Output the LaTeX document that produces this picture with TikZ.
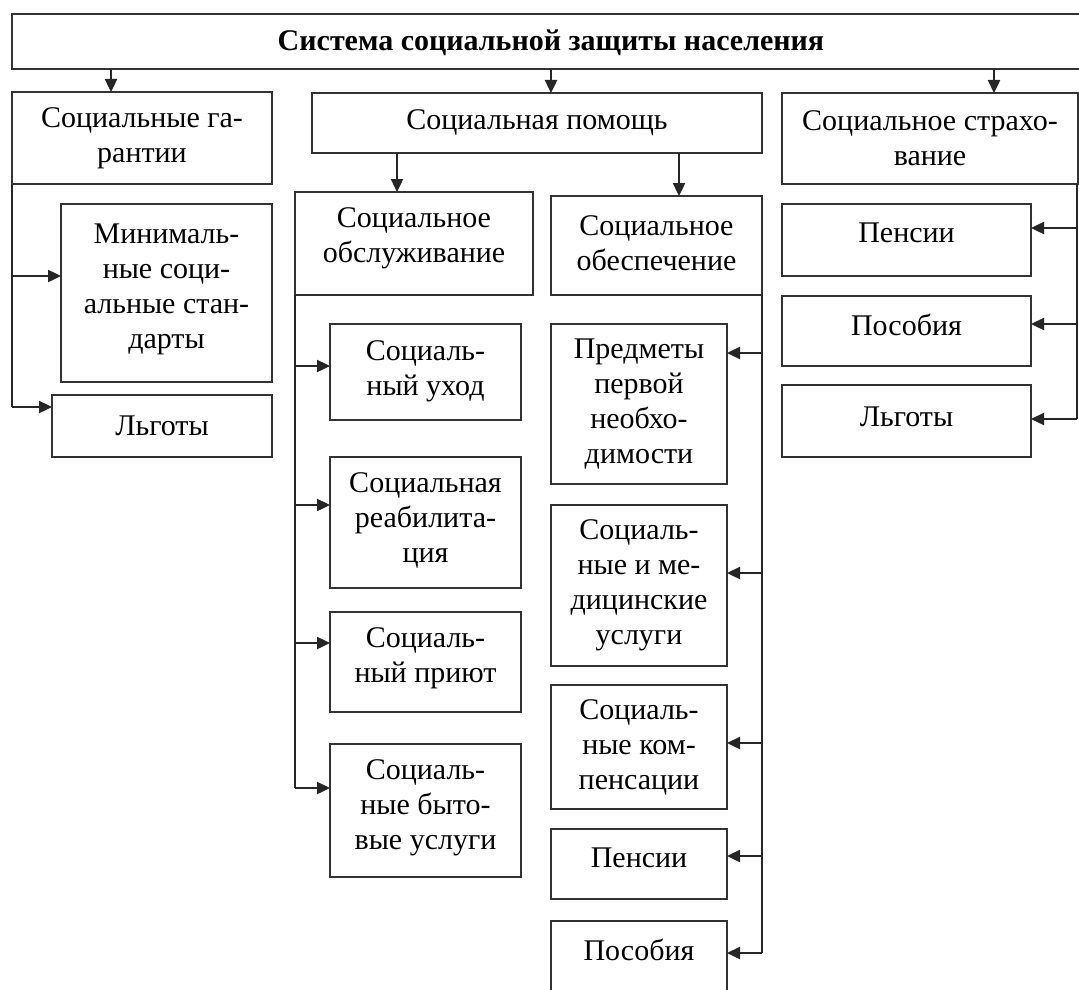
\documentclass[tikz,border=0pt]{standalone}
\usepackage{fontspec}
\setmainfont{Liberation Serif}
\usetikzlibrary{arrows.meta}
\tikzset{
  boxst/.style={draw=black!80, line width=2.4pt, rectangle, inner sep=0pt, outer sep=0pt},
  txt/.style={align=center, inner sep=0pt, font=\fontsize{30}{35}\selectfont, text=black},
  arr/.style={draw=black!85, line width=2.4pt, -{Triangle[length=13pt,width=12pt]}},
  ln/.style={draw=black!85, line width=2.4pt}
}
\newcommand{\bx}[7]{%
  \node[boxst, minimum width=#4pt, minimum height=#5pt] (#1) at (#2,#3) {};
  \node[txt, yshift=#6pt] (#1t) at (#1.center) {#7};
}
\begin{document}
\begin{tikzpicture}[x=1pt,y=-1pt]
\useasboundingbox (0,0) rectangle (1079,990);
\clip (0,0) rectangle (1079,990);
% top
\node[boxst, minimum width=1078pt, minimum height=55pt] (top) at (551,41.5) {};
\node[txt, font=\fontsize{30}{35}\selectfont\bfseries, yshift=-1pt] (topt) at (top.center) {Система социальной защиты населения};
% level 1
\bx{gar}{142}{138}{260}{92}{0}{Социальные га-\\рантии}
\bx{pom}{537}{123}{450}{60}{0}{Социальная помощь}
\bx{str}{930}{138.5}{296}{91}{0}{Социальное страхо-\\вание}
% left column
\bx{min}{166.5}{293}{211}{178}{4}{Минималь-\\ные соци-\\альные стан-\\дарты}
\bx{lgL}{162}{426}{220}{62}{0}{Льготы}
% middle level 2
\bx{obsl}{414}{243.5}{238}{103}{5}{Социальное\\обслуживание}
\bx{obes}{656.5}{245.5}{211}{99}{2}{Социальное\\обеспечение}
% obsl children
\bx{uhod}{425.5}{372}{191}{96}{1}{Социаль-\\ный уход}
\bx{reab}{425.5}{522.5}{191}{131}{2}{Социальная\\реабилита-\\ция}
\bx{pri}{425.5}{662}{191}{100}{4}{Социаль-\\ный приют}
\bx{byt}{425.5}{810.5}{191}{133}{3}{Социаль-\\ные быто-\\вые услуги}
% obes children
\bx{pred}{639}{404}{176}{160}{0}{Предметы\\первой\\необхо-\\димости}
\bx{med}{639}{585.5}{176}{161}{0}{Социаль-\\ные и ме-\\дицинские\\услуги}
\bx{komp}{639}{747}{176}{124}{0}{Социаль-\\ные ком-\\пенсации}
\bx{pen2}{639}{864}{176}{70}{6}{Пенсии}
\bx{pos2}{639}{958}{176}{74}{8}{Пособия}
% right column
\bx{pen3}{906.5}{240}{249}{72}{7}{Пенсии}
\bx{pos3}{906.5}{331}{249}{70}{6}{Пособия}
\bx{lg3}{906.5}{421}{249}{72}{4}{Льготы}
% connectors from top
\draw[arr] ([xshift=-31pt]gar.north |- top.south) -- ([xshift=-31pt]gar.north);
\draw[arr] ([xshift=14pt]pom.north |- top.south) -- ([xshift=14pt]pom.north);
\draw[arr] ([xshift=64pt]str.north |- top.south) -- ([xshift=64pt]str.north);
% pom to children
\draw[arr] ([xshift=-17pt]obsl.north |- pom.south) -- ([xshift=-17pt]obsl.north);
\draw[arr] ([xshift=22.5pt]obes.north |- pom.south) -- ([xshift=22.5pt]obes.north);
% left trunk
\coordinate (aMin) at ([yshift=17pt]min.west);
\coordinate (aLgL) at ([yshift=19pt]lgL.west);
\draw[ln] (gar.south west) -- (gar.south west |- aLgL);
\draw[arr] (gar.south west |- aMin) -- (aMin);
\draw[arr] (gar.south west |- aLgL) -- (aLgL);
% obsl trunk
\coordinate (aUhod) at ([yshift=6pt]uhod.west);
\coordinate (aReab) at ([yshift=17.5pt]reab.west);
\coordinate (aPri) at ([yshift=19pt]pri.west);
\coordinate (aByt) at ([yshift=22.5pt]byt.west);
\draw[ln] (obsl.south west) -- (obsl.south west |- aByt);
\draw[arr] (obsl.south west |- aUhod) -- (aUhod);
\draw[arr] (obsl.south west |- aReab) -- (aReab);
\draw[arr] (obsl.south west |- aPri) -- (aPri);
\draw[arr] (obsl.south west |- aByt) -- (aByt);
% obes trunk
\coordinate (aPred) at ([yshift=51pt]pred.east);
\coordinate (aMed) at ([yshift=12.5pt]med.east);
\coordinate (aKomp) at ([yshift=4pt]komp.east);
\coordinate (aPen2) at ([yshift=8pt]pen2.east);
\coordinate (aPos2) at ([yshift=5pt]pos2.east);
\draw[ln] (obes.south east) -- (obes.south east |- aPos2);
\draw[arr] (obes.south east |- aPred) -- (aPred);
\draw[arr] (obes.south east |- aMed) -- (aMed);
\draw[arr] (obes.south east |- aKomp) -- (aKomp);
\draw[arr] (obes.south east |- aPen2) -- (aPen2);
\draw[arr] (obes.south east |- aPos2) -- (aPos2);
% right trunk
\coordinate (aPen3) at ([yshift=12pt]pen3.east);
\coordinate (aPos3) at ([yshift=7pt]pos3.east);
\coordinate (aLg3) at ([yshift=2pt]lg3.east);
\draw[ln] ([xshift=-1pt]str.south east) -- ([xshift=-1pt]str.south east |- aLg3);
\draw[arr] ([xshift=-1pt]str.south east |- aPen3) -- (aPen3);
\draw[arr] ([xshift=-1pt]str.south east |- aPos3) -- (aPos3);
\draw[arr] ([xshift=-1pt]str.south east |- aLg3) -- (aLg3);
\end{tikzpicture}
\end{document}
